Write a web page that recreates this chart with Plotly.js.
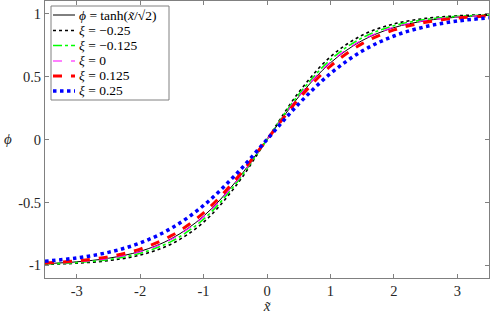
<!DOCTYPE html>
<html>
<head>
<meta charset="utf-8">
<script src="https://cdn.plot.ly/plotly-3.0.1.min.js"></script>
<style>html,body{margin:0;padding:0;background:#fff}#chart{width:491px;height:314px}</style>
</head>
<body>
<div id="chart"></div>
<script>
// x̃ sample positions
const xs = [-3.5,-3,-2.5,-2,-1.5,-1,-0.5,0,0.5,1,1.5,2,2.5,3,3.5];
// phi = tanh(x/sqrt2) reference curve
const phiBase = [-0.9860,-0.9716,-0.9431,-0.8884,-0.7857,-0.6089,-0.3395,0,0.3395,0.6089,0.7857,0.8884,0.9431,0.9716,0.9860];
// xi = -0.25
const phiXiM025 = [-0.9920,-0.9824,-0.9617,-0.9178,-0.8278,-0.6569,-0.3745,0,0.3745,0.6569,0.8278,0.9178,0.9617,0.9824,0.9920];
// xi = -0.125
const phiXiM0125 = [-0.9893,-0.9775,-0.9532,-0.9038,-0.8074,-0.6329,-0.3567,0,0.3567,0.6329,0.8074,0.9038,0.9532,0.9775,0.9893];
// xi = 0
const phiXi0 = [-0.9866,-0.9728,-0.9453,-0.8914,-0.7900,-0.6134,-0.3427,0,0.3427,0.6134,0.7900,0.8914,0.9453,0.9728,0.9866];
// xi = 0.125
const phiXiP0125 = [-0.9814,-0.9640,-0.9311,-0.8701,-0.7616,-0.5828,-0.3215,0,0.3215,0.5828,0.7616,0.8701,0.9311,0.9640,0.9814];
// xi = 0.25
const phiXiP025 = [-0.9664,-0.9407,-0.8964,-0.8220,-0.7024,-0.5237,-0.2828,0,0.2828,0.5237,0.7024,0.8220,0.8964,0.9407,0.9664];

const seriesNames = [
  "<i>ϕ</i> = tanh(<i>x̃</i>/√2)",
  "<i>ξ</i> = −0.25",
  "<i>ξ</i> = −0.125",
  "<i>ξ</i> = 0",
  "<i>ξ</i> = 0.125",
  "<i>ξ</i> = 0.25"
];
const xTickVals = [-3,-2,-1,0,1,2,3];
const xTickText = ["-3","-2","-1","0","1","2","3"];
const yTickVals = [-1,-0.5,0,0.5,1];
const yTickText = ["-1","-0.5","0","0.5","1"];

const serif = "'Liberation Serif', 'Times New Roman', serif";
const styles = [
  {color: "#000000", dash: "solid", width: 1},
  {color: "#000000", dash: "dot", width: 1.6},
  {color: "#00ff00", dash: "dashdot", width: 1.6},
  {color: "#ff00ff", dash: "dash", width: 1.2},
  {color: "#ff0000", dash: "dash", width: 3},
  {color: "#0000ff", dash: "dot", width: 3.5}
];
const ys = [phiBase, phiXiM025, phiXiM0125, phiXi0, phiXiP0125, phiXiP025];
const data = ys.map((y, i) => ({
  x: xs, y: y, name: seriesNames[i], type: "scatter", mode: "lines",
  line: Object.assign({shape: "spline", smoothing: 1}, styles[i])
}));

// plot area in pixels (for the hand-built compact legend)
const L = 45, R = 489, T = 1, B = 278;
const px = v => (v - L) / (R - L);
const py = v => (B - v) / (B - T);

const shapes = [{
  type: "rect", xref: "paper", yref: "paper",
  x0: px(51), x1: px(169), y0: py(100), y1: py(6),
  line: {color: "#808080", width: 1}, fillcolor: "#ffffff", layer: "above"
}];
const annotations = [];
const rowY = [15, 30.5, 45.5, 61, 76, 91];
rowY.forEach((yy, i) => {
  shapes.push({
    type: "line", xref: "paper", yref: "paper",
    x0: px(53), x1: px(75), y0: py(yy), y1: py(yy),
    line: {color: styles[i].color, dash: styles[i].dash, width: styles[i].width},
    layer: "above"
  });
  annotations.push({
    text: seriesNames[i], xref: "paper", yref: "paper",
    x: px(77), y: py(yy), xanchor: "left", yanchor: "middle",
    showarrow: false, font: {family: serif, size: 13.5, color: "#000"}
  });
});
annotations.push({
  text: "<i>ϕ</i>", xref: "paper", yref: "paper", x: px(8), y: py(139),
  xanchor: "center", yanchor: "middle",
  showarrow: false, font: {family: serif, size: 15, color: "#262626"}
});

const axisCommon = {
  showgrid: false, zeroline: false, showline: true, mirror: "ticks",
  linecolor: "#808080", linewidth: 1, ticks: "inside", ticklen: 4,
  tickcolor: "#808080", tickfont: {family: serif, size: 14.5, color: "#262626"}
};
const layout = {
  width: 491, height: 314,
  font: {family: serif, size: 13, color: "#262626"},
  margin: {l: L, r: 491 - R, t: T, b: 314 - B},
  paper_bgcolor: "#fff", plot_bgcolor: "#fff",
  showlegend: false,
  xaxis: Object.assign({}, axisCommon, {
    range: [-3.5, 3.5], tickvals: xTickVals, ticktext: xTickText,
    title: {text: "<i>x̃</i>", font: {family: serif, size: 15, color: "#262626"}, standoff: 6}
  }),
  yaxis: Object.assign({}, axisCommon, {
    range: [-1.1, 1.1], tickvals: yTickVals, ticktext: yTickText
  }),
  shapes: shapes,
  annotations: annotations
};
Plotly.newPlot("chart", data, layout, {displayModeBar: false, staticPlot: true});
</script>
</body>
</html>
